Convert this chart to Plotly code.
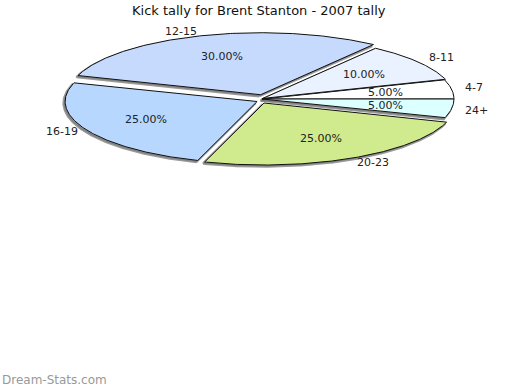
import math
import plotly.graph_objects as go

# ---- data ----
categories = ["4-7", "8-11", "12-15", "16-19", "20-23", "24+"]
values = [5, 10, 30, 25, 25, 5]
title_text = "Kick tally for Brent Stanton - 2007 tally"
watermark = "Dream-Stats.com"

# ---- style ----
colors = ["#ffffff", "#eaf1ff", "#c6dafe", "#b7d7ff", "#d0eb8d", "#dcffff"]
explode = [0, 1, 4.5, 5.5, 4.5, 0]
CX, CY, A, B = 262, 99, 192, 62
W, H = 520, 390

fig = go.Figure()
total = sum(values)
start = 0.0
slices = []
for cat, v, col, ex in zip(categories, values, colors, explode):
    span = 360.0 * v / total
    t1, t2 = start, start + span
    mid = math.radians((t1 + t2) / 2)
    ox, oy = ex * math.cos(mid), -ex * math.sin(mid)
    n = max(8, int(span * 2))
    xs, ys = [CX + ox], [CY + oy]
    for k in range(n + 1):
        t = math.radians(t1 + (t2 - t1) * k / n)
        xs.append(CX + ox + A * math.cos(t))
        ys.append(CY + oy - B * math.sin(t))
    xs.append(CX + ox)
    ys.append(CY + oy)
    slices.append((cat, v, col, xs, ys, mid, ox, oy))
    start = t2

# shadows
for cat, v, col, xs, ys, mid, ox, oy in slices:
    fig.add_trace(go.Scatter(x=[x - 1.5 for x in xs], y=[y + 1.5 for y in ys],
                             mode="lines", fill="toself", fillcolor="rgba(120,120,120,0.75)",
                             line=dict(color="rgba(120,120,120,0.75)", width=2.5),
                             hoverinfo="skip", showlegend=False))
# slices
for cat, v, col, xs, ys, mid, ox, oy in slices:
    fig.add_trace(go.Scatter(x=xs, y=ys, mode="lines", fill="toself", fillcolor=col,
                             line=dict(color="#111111", width=1),
                             name=cat, showlegend=False, hoverinfo="name"))

annotations = []
for cat, v, col, xs, ys, mid, ox, oy in slices:
    px = CX + ox + 0.65 * A * math.cos(mid)
    py = CY + oy - 0.65 * B * math.sin(mid)
    annotations.append(dict(x=px, y=py, text="%.2f%%" % (100.0 * v / total),
                            showarrow=False, xanchor="center", yanchor="middle",
                            font=dict(size=11, color="#222222")))
    lx = CX + (A + 12) * math.cos(mid)
    ly = CY - (B + 9) * math.sin(mid)
    annotations.append(dict(x=lx, y=ly, text=cat, showarrow=False,
                            xanchor="left" if math.cos(mid) >= 0 else "right",
                            yanchor="middle", font=dict(size=11, color="#222222")))

annotations.append(dict(x=W / 2 - 1, y=10, text=title_text, showarrow=False,
                        xanchor="center", yanchor="middle",
                        font=dict(size=13, color="#111111")))
annotations.append(dict(x=0, y=380, text=watermark, showarrow=False,
                        xanchor="left", yanchor="middle",
                        font=dict(size=12, color="#999999")))

fig.update_layout(
    width=W, height=H, margin=dict(l=0, r=0, t=0, b=0),
    paper_bgcolor="white", plot_bgcolor="white",
    font=dict(family="DejaVu Sans"),
    xaxis=dict(range=[0, W], visible=False, fixedrange=True),
    yaxis=dict(range=[H, 0], visible=False, fixedrange=True),
    annotations=annotations,
)
fig.write_html("out.html", config={"displayModeBar": False},
               post_script="document.body.style.margin='0';document.body.style.overflow='hidden';")
